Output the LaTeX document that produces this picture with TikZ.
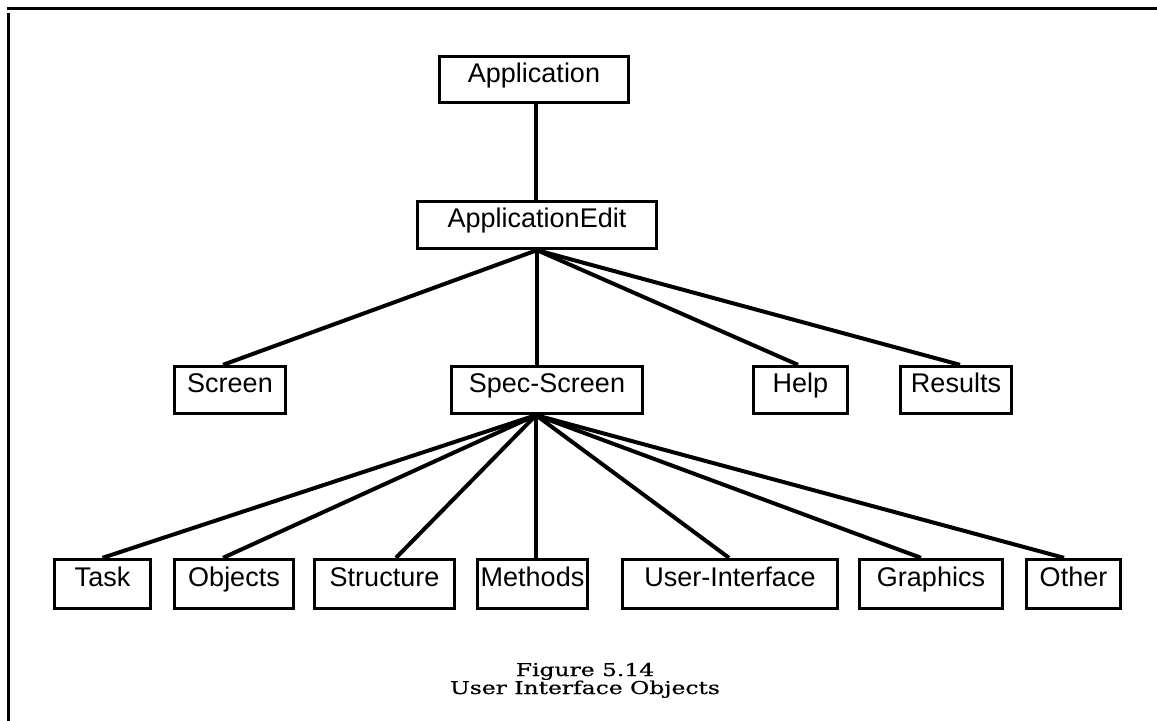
\documentclass[tikz,border=0pt]{standalone}
\usepackage{fontspec}
\setmainfont{Liberation Sans}
\newfontfamily\capfont[FakeStretch=1.32,FakeBold=0.6]{DejaVu Serif}
\usetikzlibrary{calc}
\begin{document}
\begin{tikzpicture}[x=0.75pt,y=-0.75pt,
  box/.style 2 args={draw, line width=2.5pt, inner sep=0pt, anchor=center,
    minimum width=#1*0.75pt, minimum height=#2*0.75pt,
    text height=0.72em, text depth=0.3em,
    font=\fontsize{20.25pt}{24pt}\selectfont},
  link/.style={line width=3pt},
  frame/.style={line width=2.8pt},
  caption/.style={anchor=base, inner sep=0pt, font=\capfont\fontsize{13.3pt}{14pt}\selectfont}]
\useasboundingbox (0,0) rectangle (1157,721);
% page frame
\coordinate (ftl) at (7,8.5);
\coordinate (ftr) at (1157,8.5);
\coordinate (fl1) at (8.5,13);
\coordinate (fl2) at (8.5,721);
\draw[frame] (ftl) -- (ftr);
\draw[frame] (fl1) -- (fl2);
% nodes
\node[box={189}{46}] (app) at (534,79.5) {Application};
\node[box={239}{47}] (appedit) at (537,225) {ApplicationEdit};
\node[box={111}{47}] (screen) at (230,390) {Screen};
\node[box={191}{47}] (spec) at (547,390) {Spec-Screen};
\node[box={94}{47}] (help) at (800.5,390) {Help};
\node[box={111}{47}] (results) at (956,390) {Results};
\node[box={96}{49}] (task) at (102.5,584) {Task};
\node[box={119}{49}] (objects) at (234,584) {Objects};
\node[box={140}{49}] (structure) at (384.5,584) {Structure};
\node[box={110}{49}] (methods) at (532.5,584) {Methods};
\node[box={215}{49}] (ui) at (730,584) {User-Interface};
\node[box={143}{49}] (graphics) at (931,584) {Graphics};
\node[box={94}{49}] (other) at (1073.5,584) {Other};
% connectors
\draw[link] ($(app.south)+(2,0)$) -- ($(appedit.north)+(-1,0)$);
\coordinate (hubA) at ($(appedit.south)+(0,0)$);
\draw[link] (hubA) -- ($(screen.north)+(-7,0)$);
\draw[link] (hubA) -- (hubA |- spec.north);
\draw[link] (hubA) -- ($(help.north)+(-2.5,0)$);
\draw[link] (hubA) -- ($(results.north)+(4,0)$);
\coordinate (hubB) at ($(spec.south)+(-11,0)$);
\draw[link] (hubB) -- (task.north);
\draw[link] (hubB) -- ($(objects.north)+(-11,0)$);
\draw[link] (hubB) -- ($(structure.north)+(11.5,0)$);
\draw[link] (hubB) -- (hubB |- methods.north);
\draw[link] (hubB) -- ($(ui.north)+(-1,0)$);
\draw[link] (hubB) -- ($(graphics.north)+(-10,0)$);
\draw[link] (hubB) -- ($(other.north)+(-9.5,0)$);
% caption
\node[caption] (cap1) at (585,676) {Figure 5.14};
\node[caption] (cap2) at (585,694) {User Interface Objects};
\end{tikzpicture}
\end{document}
